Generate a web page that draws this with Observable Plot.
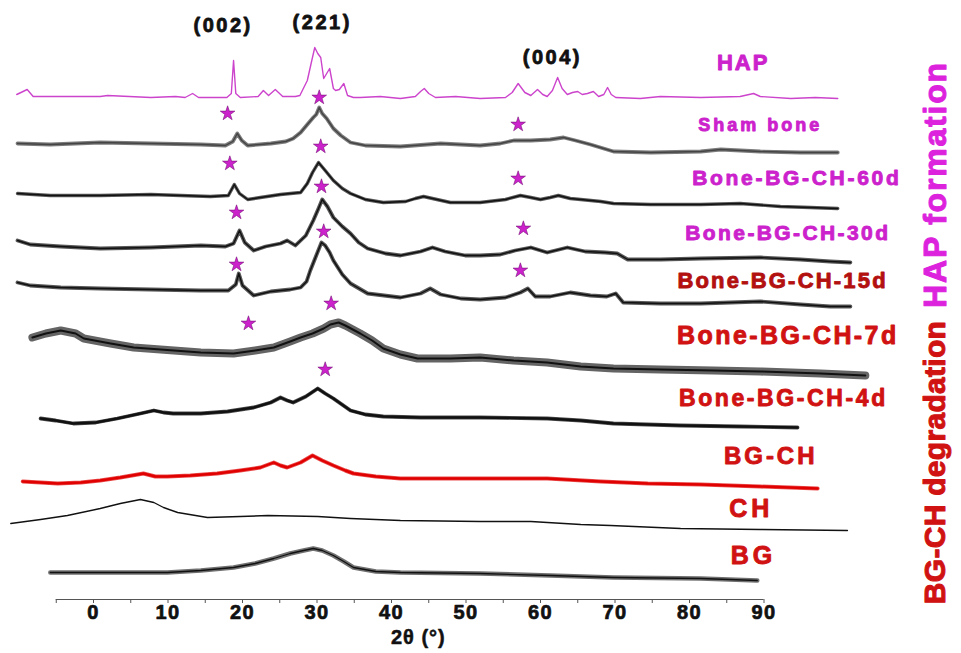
<!DOCTYPE html>
<html><head><meta charset="utf-8">
<script src="https://cdn.jsdelivr.net/npm/d3@7"></script>
<script src="https://cdn.jsdelivr.net/npm/@observablehq/plot@0.6"></script>
<style>body{margin:0;background:#fff}#chart svg{display:block}</style>
</head><body><div id="chart"></div>
<script>
// ---------- DATA (2θ in degrees, intensity in a.u. relative to each trace's stacking offset) ----------
const samples = ["HAP","Sham bone","Bone-BG-CH-60d","Bone-BG-CH-30d","Bone-BG-CH-15d","Bone-BG-CH-7d","Bone-BG-CH-4d","BG-CH","CH","BG"];
const offsets = [502, 454, 404, 352, 311, 247, 182, 121, 81, 27];

const hap = [[-10.3,3],[-8.9,8],[-8.1,1],[-4.4,1],[0.9,1],[1.9,2],[7.7,0],[11.0,1],[12.3,0],[13.3,4],[14.1,0],[17.9,0],[18.5,4],[18.8,37],[19.1,4],[19.7,0],[22.1,1],[22.8,7],[23.5,2],[24.4,8],[25.4,1],[27.1,1],[27.7,2],[28.7,17],[29.3,37],[29.7,50],[30.1,44],[30.5,40],[30.9,19],[31.3,24],[31.7,29],[32.2,9],[32.5,7],[33.0,8],[33.6,14],[34.1,2],[34.9,0],[35.8,0],[38.5,1],[41.2,-1],[43.2,1],[43.9,6],[44.4,9],[45.0,4],[45.9,0],[48.6,1],[51.9,-1],[55.3,0],[56.2,5],[57.0,14],[57.9,5],[58.7,2],[59.6,8],[60.3,3],[60.9,1],[61.6,7],[62.3,20],[62.9,9],[63.6,3],[64.3,5],[65.0,6],[65.6,3],[66.3,4],[67.1,6],[67.8,1],[68.5,3],[69.0,10],[69.5,3],[70.1,0],[73.4,-1],[76.1,1],[81.5,0],[86.8,1],[88.6,4],[89.5,1],[93.6,-1],[96.9,0],[99.9,-1]];
const sham = [[-10.2,2],[-5.8,1],[0.9,3],[7.7,2],[14.4,1],[17.7,0],[18.7,4],[19.3,12],[19.9,5],[20.7,0],[23.8,2],[25.8,4],[26.8,7],[27.8,13],[28.7,21],[29.5,28],[29.9,31],[30.3,38],[30.7,32],[31.3,27],[32.2,17],[33.2,10],[34.5,3],[36.5,0],[41.2,-1],[46.6,2],[51.9,0],[54.6,2],[56.4,5],[58.7,5],[61.3,6],[63.1,8],[64.7,5],[66.7,1],[69.8,-6],[74.8,-7],[81.5,-6],[84.2,-4],[89.5,-6],[94.9,-7],[99.9,-7]];
const d60 = [[-10.2,2],[-5.8,0],[0.9,0],[7.7,1],[11.7,0],[15.7,-1],[18.1,0],[18.9,11],[19.6,2],[20.7,-4],[22.4,-2],[25.1,1],[27.8,3],[28.7,12],[29.4,23],[30.2,33],[31.1,25],[32.2,15],[33.4,7],[34.5,2],[36.5,-4],[38.9,-7],[41.9,-6],[43.2,-3],[44.3,-1],[45.5,-3],[47.9,-7],[51.9,-7],[55.3,-4],[57.3,0],[58.7,-2],[60.0,-4],[61.3,-2],[62.4,0],[64.0,-3],[65.4,-4],[68.1,-6],[69.8,-8],[74.8,-9],[81.5,-9],[86.8,-8],[92.2,-11],[96.2,-12],[99.9,-13]];
const d30 = [[-10.2,7],[-8.5,3],[-4.4,1],[0.9,-1],[7.7,0],[14.4,2],[17.7,1],[18.8,4],[19.6,17],[20.3,5],[21.5,-3],[23.1,1],[25.1,4],[26.0,7],[27.1,2],[28.5,12],[29.5,27],[30.2,39],[30.7,48],[31.4,41],[32.2,30],[33.4,21],[34.5,14],[35.6,5],[36.8,-1],[39.2,-6],[41.2,-8],[43.9,-4],[45.5,0],[47.2,-4],[49.9,-8],[51.9,-8],[54.6,-7],[56.6,-3],[58.7,0],[60.9,-5],[63.6,0],[66.0,-4],[68.7,-5],[70.3,-6],[71.7,-12],[76.1,-12],[81.5,-11],[89.5,-10],[94.9,-12],[98.9,-14],[101.6,-15]];
const d15 = [[-10.2,6],[-8.5,3],[-4.4,1],[0.9,0],[7.7,-1],[14.4,-2],[18.1,-2],[19.1,4],[19.5,15],[20.0,3],[21.5,-7],[23.8,-3],[26.4,-1],[27.8,1],[28.6,7],[29.1,18],[29.9,33],[30.6,46],[31.1,43],[31.7,36],[32.2,28],[33.4,14],[34.5,5],[36.8,-5],[41.2,-9],[43.9,-5],[45.2,0],[46.6,-6],[49.3,-10],[51.9,-11],[55.3,-9],[57.3,-4],[58.3,0],[59.3,-8],[61.3,-8],[64.0,-4],[66.7,-7],[68.9,-8],[70.1,-5],[71.1,-14],[76.1,-15],[81.5,-15],[89.5,-13],[94.9,-16],[98.9,-18],[101.6,-18]];
const d7 = [[-8.2,15],[-6.4,19],[-4.4,22],[-2.4,19],[-1.3,14],[2.3,9],[5.4,5],[9.0,3],[14.4,0],[18.8,-1],[21.7,2],[24.2,5],[26.4,11],[27.8,15],[29.4,19],[30.9,24],[31.8,28],[32.9,30],[33.8,27],[35.8,19],[37.4,12],[38.9,4],[41.2,-2],[43.5,-6],[47.9,-6],[51.9,-5],[56.4,-8],[60.9,-10],[65.4,-14],[69.8,-16],[76.1,-17],[83.2,-18],[89.5,-19],[97.6,-21],[103.6,-23]];
const d4 = [[-7.1,-1],[-5.1,-3],[-2.7,-6],[0.3,-5],[3.2,-1],[6.3,4],[8.1,7],[9.4,5],[10.7,4],[14.4,4],[18.0,6],[21.5,10],[23.8,15],[25.1,20],[26.0,17],[26.8,15],[28.5,21],[30.1,29],[31.1,24],[32.2,19],[34.5,7],[36.5,3],[38.9,1],[43.9,0],[51.9,0],[60.9,-1],[65.4,-3],[69.8,-6],[78.8,-8],[86.8,-9],[94.5,-10]];
const bgch = [[-9.5,-3],[-7.1,-4],[-4.8,-5],[-1.7,-4],[0.9,-2],[3.6,1],[6.7,5],[8.3,2],[9.9,2],[13.0,3],[16.6,5],[19.7,8],[22.4,11],[24.2,16],[25.1,13],[26.0,11],[27.8,16],[29.4,23],[30.7,18],[32.2,13],[33.8,8],[34.9,5],[37.9,2],[41.2,0],[46.6,0],[51.9,0],[60.9,0],[68.1,-3],[74.4,-5],[81.5,-6],[89.5,-8],[97.2,-10]];
const ch = [[-11.1,-5],[-7.1,-1],[-3.5,3],[0.9,10],[3.6,15],[6.3,19],[8.1,16],[9.4,11],[11.3,6],[15.3,1],[19.7,2],[23.4,3],[30.1,2],[34.5,0],[41.2,-2],[51.9,-3],[58.7,-3],[65.4,-6],[69.4,-7],[78.8,-10],[89.5,-11],[101.2,-12]];
const bg = [[-5.8,0],[0.9,0],[9.9,0],[14.4,2],[18.8,5],[21.7,9],[24.2,14],[26.4,19],[28.2,22],[29.5,24],[30.7,22],[32.2,17],[33.6,11],[34.9,5],[37.9,1],[41.2,0],[51.9,-1],[61.3,-3],[69.8,-5],[81.5,-6],[89.1,-8]];
const traces = [hap, sham, d60, d30, d15, d7, d4, bgch, ch, bg];

// HAP reflection markers (2θ, a.u.)
const starX = [18.0,30.3,57.0, 18.3,30.5,57.0, 19.2,30.6,57.7, 19.2,30.9,57.3, 20.8,31.9, 31.1];
const starY = [486,502,475, 436,453,421, 387,413,371, 335,368,329, 276,296, 230];

const peakLabels = ["(002)","(221)","(004)"];
const xTicks = [0,10,20,30,40,50,60,70,80,90];
const xTitle = "2θ (°)";
const groupLabels = ["HAP formation","BG-CH degradation"];

// ---------- LAYOUT / STYLE ----------
const magenta = "#cc22cc", red = "#d01212", darkRed = "#b31010";
const traceStyle = [
  {c:"#cc44cc", w:1.4, fw:0,   fo:0},
  {c:"#444444", w:1.4, fw:3.8, fo:0.7},
  {c:"#111111", w:1.4, fw:3.4, fo:0.7},
  {c:"#111111", w:1.4, fw:3.8, fo:0.7},
  {c:"#111111", w:1.4, fw:3.8, fo:0.7},
  {c:"#111111", w:2.0, fw:8,   fo:0.65},
  {c:"#111111", w:2.4, fw:3.8, fo:0.75},
  {c:"#e00000", w:2.4, fw:4,   fo:0.7},
  {c:"#111111", w:1.4, fw:0,   fo:0},
  {c:"#111111", w:1.3, fw:4.5, fo:0.6}
];
const sampleLabelPos = [[87.2,537],[89.5,474],[94.4,421],[93.2,366],[92.5,319],[93.2,264],[92.6,201],[90.9,143],[88.3,91],[88.6,44]];
const sampleLabelStyle = [
  {c:magenta, s:22, ls:2}, {c:magenta, s:18, ls:3}, {c:magenta, s:21, ls:2.7}, {c:magenta, s:21, ls:2.4},
  {c:darkRed, s:22, ls:2.2}, {c:red, s:25, ls:2.4}, {c:red, s:23, ls:2.6}, {c:red, s:24, ls:3},
  {c:red, s:25, ls:4}, {c:red, s:25, ls:4}
];
const peakLabelPos = [[17.4,574],[30.7,577],[61.6,542]];
const groupLabelPos = [[113.0,415],[113.0,137]];
const groupLabelStyle = [{c:"#dd22dd", s:32, ls:1.8},{c:red, s:30, ls:0.3}];
const font = "Liberation Sans, Arial, sans-serif";

// ---------- BUILD ----------
const rows = [];
traces.forEach((pts, i) => pts.forEach(([x, v]) => rows.push({sample: samples[i], x, y: offsets[i] + v})));
const stars = starX.map((x, i) => ({x, y: starY[i]}));
const textStyle = new Map(); // text content -> {ls, sw, c}

const marks = [];
samples.forEach((s, i) => {
  const data = rows.filter(r => r.sample === s);
  const st = traceStyle[i];
  if (st.fw > 0) marks.push(Plot.line(data, {x:"x", y:"y", stroke: st.c, strokeWidth: st.fw, strokeOpacity: st.fo}));
  marks.push(Plot.line(data, {x:"x", y:"y", stroke: st.c, strokeWidth: st.w}));
});
marks.push(Plot.dot(stars, {x:"x", y:"y", symbol:"star", r:4.6, fill:"#cc22cc", stroke:"#7a137a", strokeWidth:0.6}));

// axis
marks.push(Plot.ruleY([0], {x1:-5, x2:90, stroke:"#555", strokeWidth:1.2}));
marks.push(Plot.ruleX(d3.range(-5, 91, 5), {x: d => d, y1: 0, y2: -4, stroke:"#555", strokeWidth:1}));
marks.push(Plot.text(xTicks, {x: d => d, y: 0, dy: 13, text: d => String(d), fontSize: 20, fontWeight: "bold", fontFamily: font, fill:"#111"}));
xTicks.forEach(t => textStyle.set(String(t), {ls: 1.5, sw: 0.7, c: "#111"}));
marks.push(Plot.text([xTitle], {x: () => 43.6, y: 0, dy: 38, text: d => d, fontSize: 20, fontWeight: "bold", fontFamily: font, fill:"#111"}));
textStyle.set(xTitle, {ls: 1, sw: 0.5, c: "#111"});

// labels
samples.forEach((s, i) => {
  const st = sampleLabelStyle[i];
  marks.push(Plot.text([s], {x: () => sampleLabelPos[i][0], y: () => sampleLabelPos[i][1], text: d => d,
    fontSize: st.s, fontWeight: "bold", fontFamily: font, fill: st.c}));
  textStyle.set(s, {ls: st.ls, sw: 0.9, c: st.c});
});
peakLabels.forEach((s, i) => {
  marks.push(Plot.text([s], {x: () => peakLabelPos[i][0], y: () => peakLabelPos[i][1], text: d => d,
    fontSize: 20, fontWeight: "bold", fontFamily: font, fill: "#111"}));
  textStyle.set(s, {ls: 2.5, sw: 0.8, c: "#111"});
});
groupLabels.forEach((s, i) => {
  const st = groupLabelStyle[i];
  marks.push(Plot.text([s], {x: () => groupLabelPos[i][0], y: () => groupLabelPos[i][1], text: d => d, rotate: -90,
    fontSize: st.s, fontWeight: "bold", fontFamily: font, fill: st.c}));
  textStyle.set(s, {ls: st.ls, sw: 1.0, c: st.c});
});

const chart = Plot.plot({
  width: 961, height: 653,
  marginLeft: 0, marginRight: 0, marginTop: 0, marginBottom: 54,
  x: {domain: [-93/7.45, (961-93)/7.45], axis: null},
  y: {domain: [0, 599], axis: null},
  style: {background: "white", overflow: "visible"},
  marks
});
chart.querySelectorAll("text").forEach(t => {
  const st = textStyle.get(t.textContent);
  if (!st) return;
  t.setAttribute("letter-spacing", st.ls);
  t.setAttribute("stroke", st.c);
  t.setAttribute("stroke-width", st.sw);
  t.setAttribute("stroke-linejoin", "round");
});
document.getElementById("chart").appendChild(chart);
</script>
</body></html>
